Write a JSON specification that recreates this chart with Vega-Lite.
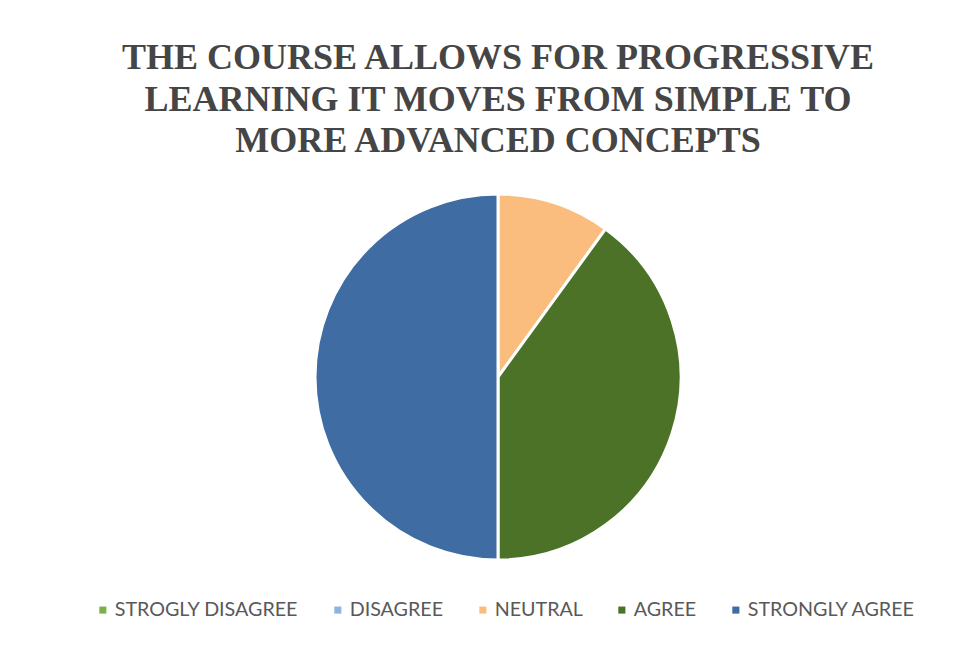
{
  "$schema": "https://vega.github.io/schema/vega-lite/v6.json",
  "width": 962,
  "height": 384,
  "autosize": {"type": "none"},
  "padding": {"left": 17, "right": 0, "top": 185, "bottom": 84},
  "background": "white",
  "title": {
    "text": ["THE COURSE ALLOWS FOR PROGRESSIVE", "LEARNING IT MOVES FROM SIMPLE TO", "MORE ADVANCED CONCEPTS"],
    "font": "Liberation Serif",
    "fontSize": 36,
    "fontWeight": "bold",
    "color": "#454545",
    "lineHeight": 41.5,
    "anchor": "middle",
    "offset": 25
  },
  "data": {
    "values": [
      {"response": "STROGLY DISAGREE", "value": 0, "order": 1},
      {"response": "DISAGREE", "value": 0, "order": 2},
      {"response": "NEUTRAL", "value": 10, "order": 3},
      {"response": "AGREE", "value": 40, "order": 4},
      {"response": "STRONGLY AGREE", "value": 50, "order": 5}
    ]
  },
  "mark": {"type": "arc", "radius": 183, "stroke": "white", "strokeWidth": 3},
  "encoding": {
    "theta": {"field": "value", "type": "quantitative", "stack": true},
    "order": {"field": "order", "type": "quantitative"},
    "color": {
      "field": "response",
      "type": "nominal",
      "scale": {
        "domain": ["STROGLY DISAGREE", "DISAGREE", "NEUTRAL", "AGREE", "STRONGLY AGREE"],
        "range": ["#78b24a", "#8fb2df", "#fbbd7d", "#4c7228", "#3e6ca3"]
      },
      "legend": {
        "title": null,
        "orient": "none",
        "legendX": 76,
        "legendY": 415,
        "direction": "horizontal",
        "columns": 5,
        "symbolType": "square",
        "symbolSize": 50,
        "symbolStrokeWidth": 0,
        "labelFont": "Lato",
        "labelFontSize": 19.7,
        "labelColor": "#595959",
        "labelLimit": 300,
        "labelOffset": 2,
        "columnPadding": 29,
        "symbolOffset": 0
      }
    }
  },
  "config": {"view": {"stroke": null}}
}
